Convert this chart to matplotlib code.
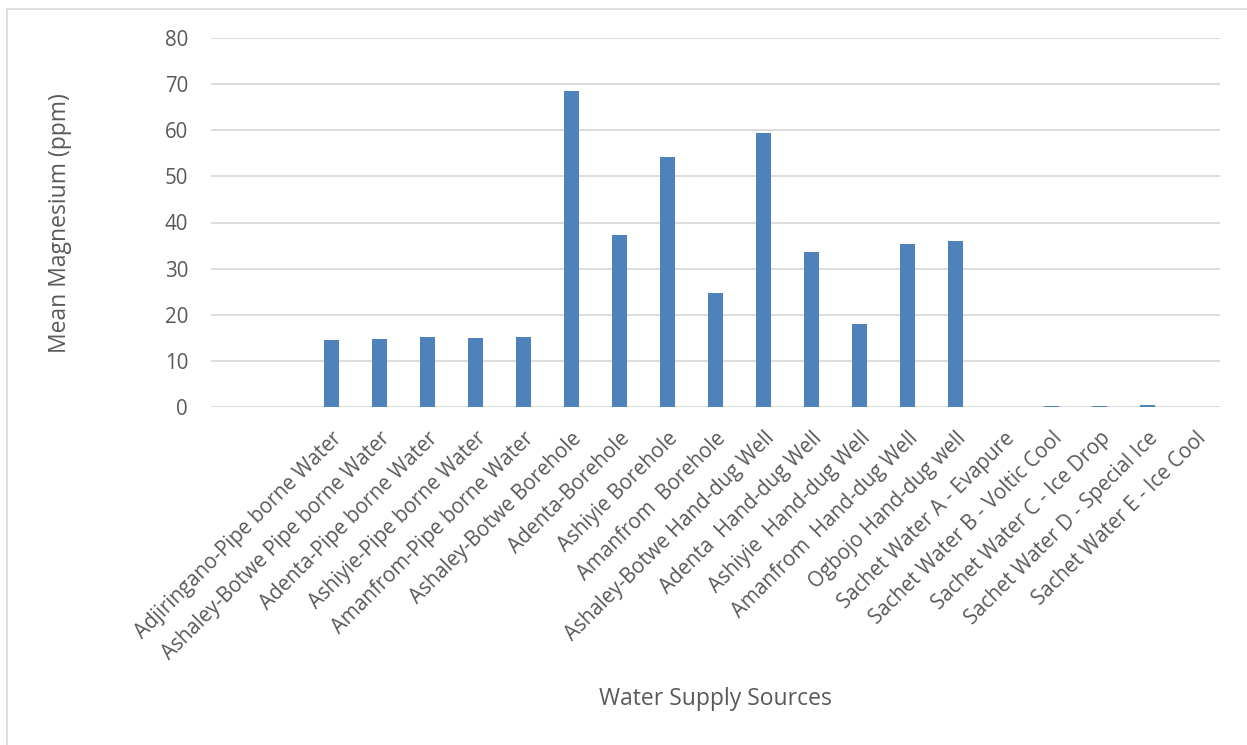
import matplotlib
matplotlib.use("Agg")
import matplotlib.pyplot as plt
import numpy as np
from matplotlib.patches import Rectangle

plt.rcParams["font.family"] = ["Open Sans", "DejaVu Sans"]

# two blank categories at the front, as in the source sheet
sources = [
    "",
    "",
    "Adjiringano-Pipe borne Water",
    "Ashaley-Botwe Pipe borne Water",
    "Adenta-Pipe borne Water",
    "Ashiyie-Pipe borne Water",
    "Amanfrom-Pipe borne Water",
    "Ashaley-Botwe Borehole",
    "Adenta-Borehole",
    "Ashiyie Borehole",
    "Amanfrom  Borehole",
    "Ashaley-Botwe Hand-dug Well",
    "Adenta  Hand-dug Well",
    "Ashiyie  Hand-dug Well",
    "Amanfrom  Hand-dug Well",
    "Ogbojo Hand-dug well",
    "Sachet Water A - Evapure",
    "Sachet Water B - Voltic Cool",
    "Sachet Water C - Ice Drop",
    "Sachet Water D - Special Ice",
    "Sachet Water E - Ice Cool",
]
mg_mean = [np.nan, np.nan,
           14.6, 14.8, 15.1, 14.9, 15.1,
           68.6, 37.3, 54.1, 24.7,
           59.5, 33.5, 18.0, 35.3, 36.0,
           0.0, 0.15, 0.15, 0.5, 0.05]
yticks = [0, 10, 20, 30, 40, 50, 60, 70, 80]

fig = plt.figure(figsize=(12.47, 7.45), dpi=100)
ax = fig.add_axes([211 / 1247, 1 - 407 / 745, 1009 / 1247, 369 / 745])

# chart area border
fig.patches.append(Rectangle((7 / 1247, -0.01), 1.02, 1 - 9 / 745 + 0.01,
                             transform=fig.transFigure, fill=False,
                             edgecolor="#D9D9D9", linewidth=1.2))

x = np.arange(len(sources))
ax.bar(x, mg_mean, width=0.31, color="#4F81BD", zorder=3)

ax.set_xlim(-0.5, len(sources) - 0.5)
ax.set_ylim(0, 80)
ax.set_yticks(yticks)
ax.yaxis.grid(True, color="#D9D9D9", linewidth=1.3, zorder=0)
for s in ax.spines.values():
    s.set_visible(False)
ax.tick_params(axis="both", length=0, labelsize=14.8, labelcolor="#595959")
ax.tick_params(axis="y", pad=16.5)

ax.set_xticks(x)
ax.set_xticklabels(sources, rotation=45, ha="right", va="top",
                   rotation_mode="anchor")
ax.tick_params(axis="x", pad=15)

fig.text(60 / 1247, 1 - 223 / 745, "Mean Magnesium (ppm)", fontsize=16.5,
         color="#595959", rotation=90, ha="center", va="center")
fig.text(715 / 1247, 1 - 699 / 745, "Water Supply Sources", fontsize=16.5,
         color="#595959", ha="center", va="center")

fig.savefig("out.png", dpi=100)
